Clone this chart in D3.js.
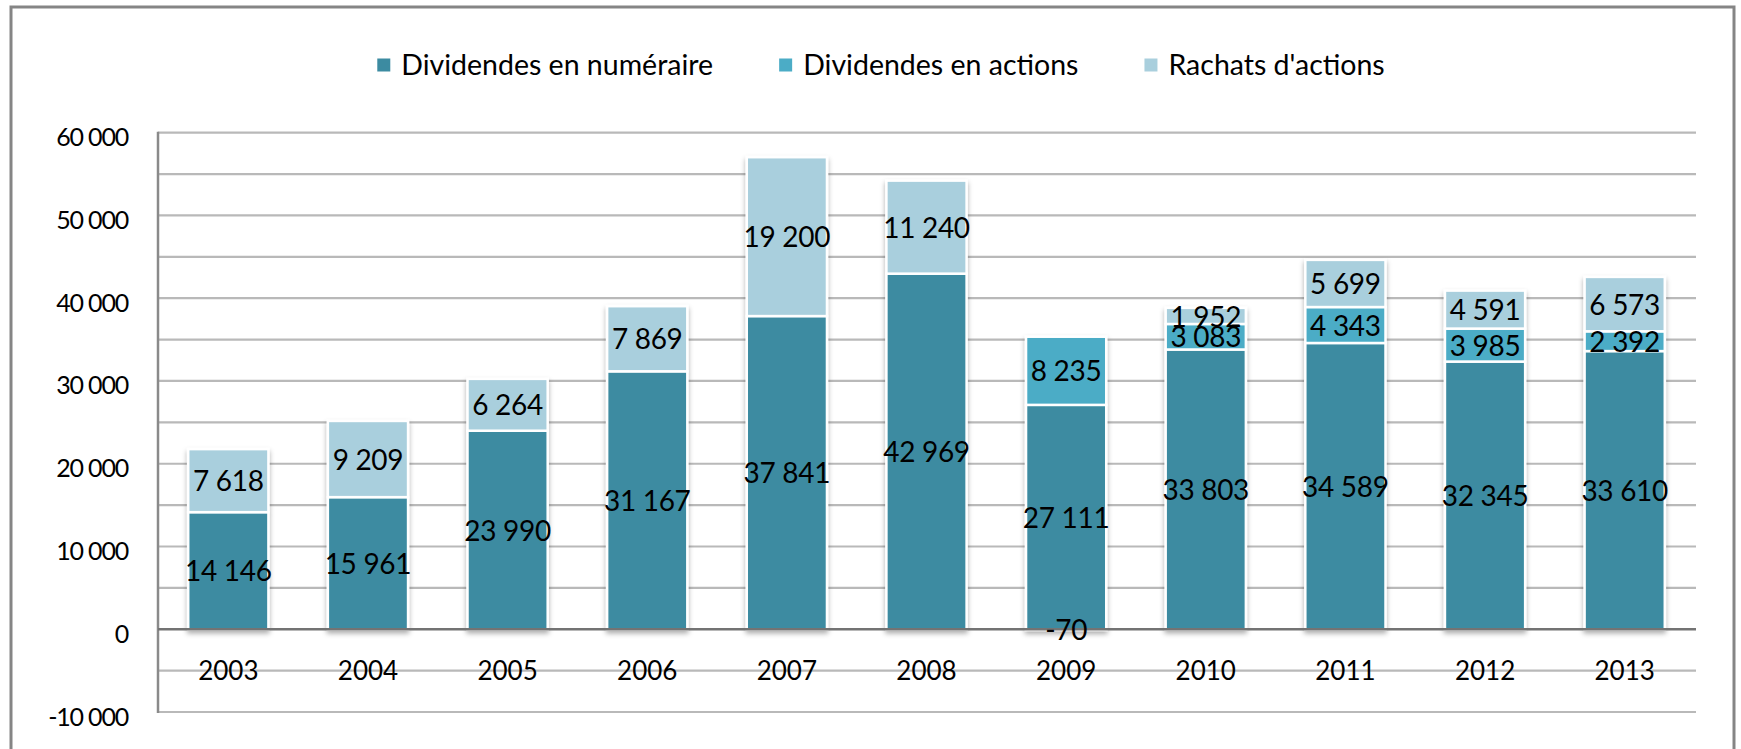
<!DOCTYPE html>
<html>
<head>
<meta charset="utf-8">
<script src="https://cdn.jsdelivr.net/npm/d3@7"></script>
<style>
  html, body { margin: 0; padding: 0; background: #fff; }
  svg { display: block; }
  text { font-family: Lato, "Open Sans", sans-serif; fill: #000; }
</style>
</head>
<body>
<div id="chart"></div>
<script>
// years on the x axis
const years = ["2003", "2004", "2005", "2006", "2007", "2008", "2009", "2010", "2011", "2012", "2013"];

// series, bottom to top in the stack
const seriesNames = ["Dividendes en numéraire", "Dividendes en actions", "Rachats d'actions"];
const numeraire = [14146, 15961, 23990, 31167, 37841, 42969, 27111, 33803, 34589, 32345, 33610];
const actions   = [0, 0, 0, 0, 0, 0, 8235, 3083, 4343, 3985, 2392];
const rachats   = [7618, 9209, 6264, 7869, 19200, 11240, -70, 1952, 5699, 4591, 6573];
const seriesColors = ["#3c8ba1", "#4bacc6", "#a9cfdd"];

// y axis
const yTicks = [-10000, 0, 10000, 20000, 30000, 40000, 50000, 60000];
const gridTicks = d3.range(-10000, 60001, 5000);

const W = 1741, H = 749;

const fr = d3.formatLocale({ decimal: ",", thousands: " ", grouping: [3], currency: ["", " €"], minus: "-" });
const fmt = fr.format(",d");

const rows = years.map((y, i) => ({
  year: y,
  [seriesNames[0]]: numeraire[i],
  [seriesNames[1]]: actions[i],
  [seriesNames[2]]: rachats[i]
}));

const stacked = d3.stack()
  .keys(seriesNames)
  .offset(d3.stackOffsetDiverging)(rows);

const svg = d3.select("#chart").append("svg")
  .attr("width", W)
  .attr("height", H);

const defs = svg.append("defs");
const shadow = defs.append("filter")
  .attr("id", "barShadow")
  .attr("x", "-20%").attr("y", "-20%")
  .attr("width", "140%").attr("height", "140%");
shadow.append("feDropShadow")
  .attr("dx", 0).attr("dy", 3)
  .attr("stdDeviation", 2.5)
  .attr("flood-color", "#000")
  .attr("flood-opacity", 0.32);

// outer frame
svg.append("rect")
  .attr("x", 11).attr("y", 7)
  .attr("width", 1723).attr("height", 800)
  .attr("fill", "none")
  .attr("stroke", "#858585")
  .attr("stroke-width", 3);

const x = d3.scaleBand()
  .domain(years)
  .range([158.5, 1694.5])
  .paddingInner(0.44)
  .paddingOuter(0.22);

const y = d3.scaleLinear()
  .domain([-10000, 60000])
  .range([712, 132.7]);

// gridlines every 5000
svg.append("g")
  .selectAll("line")
  .data(gridTicks.filter(d => d !== 0))
  .join("line")
  .attr("x1", 158).attr("x2", 1696)
  .attr("y1", d => y(d)).attr("y2", d => y(d))
  .attr("stroke", "#b9b9b9")
  .attr("stroke-width", 2.2);

// y axis line
svg.append("line")
  .attr("x1", 158).attr("x2", 158)
  .attr("y1", y(60000) - 1).attr("y2", y(-10000) + 1)
  .attr("stroke", "#8a8a8a")
  .attr("stroke-width", 2.5);

// y labels
const yAxis = svg.append("g")
  .attr("transform", "translate(128,0)")
  .call(d3.axisLeft(y).tickValues(yTicks).tickSize(0).tickPadding(0).tickFormat(fmt));
yAxis.select(".domain").remove();
yAxis.selectAll("text")
  .attr("dy", "0.36em")
  .attr("transform", "translate(0,4)")
  .style("font-family", "Lato, sans-serif")
  .style("font-size", "25px")
  .style("letter-spacing", "-1.2px")
  .style("fill", "#000");

// bars
const barGroups = svg.append("g")
  .selectAll("g")
  .data(years)
  .join("g")
  .attr("filter", "url(#barShadow)");

stacked.forEach((layer, si) => {
  layer.forEach((seg, i) => {
    if (seg[1] - seg[0] === 0) return;
    barGroups.filter((d, j) => j === i)
      .append("rect")
      .attr("x", x(years[i]) - 1)
      .attr("width", x.bandwidth() + 2)
      .attr("y", y(Math.max(seg[0], seg[1])))
      .attr("height", Math.abs(y(seg[0]) - y(seg[1])))
      .attr("fill", seriesColors[si])
      .attr("stroke", "#fff")
      .attr("stroke-width", 2.5);
  });
});

// zero line
svg.append("line")
  .attr("x1", 158).attr("x2", 1696)
  .attr("y1", y(0)).attr("y2", y(0))
  .attr("stroke", "#737373")
  .attr("stroke-width", 2.5);

// x labels
const xAxis = svg.append("g")
  .attr("transform", `translate(0,${y(-5000)})`)
  .call(d3.axisBottom(x).tickSize(0).tickPadding(0));
xAxis.select(".domain").remove();
xAxis.selectAll("text")
  .attr("y", 0)
  .attr("dy", "0.36em")
  .style("font-family", "Lato, sans-serif")
  .style("font-size", "26px")
  .style("fill", "#000");

// data labels
const labels = svg.append("g");
stacked.forEach((layer, si) => {
  layer.forEach((seg, i) => {
    const v = rows[i][seriesNames[si]];
    if (!v) return;
    labels.append("text")
      .attr("x", x(years[i]) + x.bandwidth() / 2)
      .attr("y", y((seg[0] + seg[1]) / 2))
      .attr("dy", "0.38em")
      .attr("text-anchor", "middle")
      .style("font-size", "28px")
      .style("letter-spacing", "-0.3px")
      .text(fmt(v));
  });
});

// legend
const legend = svg.append("g");
let lx = 0;
seriesNames.forEach((name, i) => {
  const g = legend.append("g");
  g.append("rect")
    .attr("x", 0).attr("y", -6.5)
    .attr("width", 13).attr("height", 13)
    .attr("fill", seriesColors[i]);
  const t = g.append("text")
    .attr("x", 24).attr("y", 0)
    .attr("dy", "0.36em")
    .style("font-size", "28.5px")
    .text(name);
  const wText = t.node().getComputedTextLength();
  g.attr("transform", `translate(${lx},0)`);
  lx += 24 + wText + 66;
});
const legendW = lx - 66;
legend.attr("transform", `translate(${881 - legendW / 2},65)`);
</script>
</body>
</html>
